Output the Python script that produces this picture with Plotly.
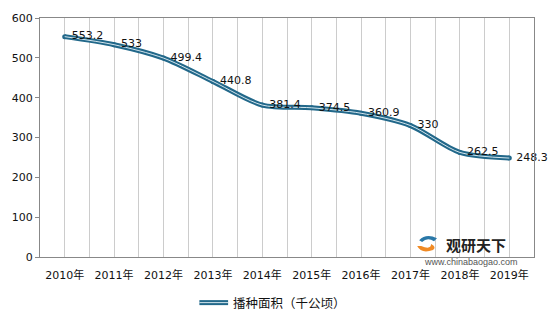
import plotly.graph_objects as go

years = ["2010年", "2011年", "2012年", "2013年", "2014年", "2015年", "2016年", "2017年", "2018年", "2019年"]
values = [553.2, 533, 499.4, 440.8, 381.4, 374.5, 360.9, 330, 262.5, 248.3]
value_labels = ["553.2", "533", "499.4", "440.8", "381.4", "374.5", "360.9", "330", "262.5", "248.3"]
series_name = "播种面积（千公顷）"
y_ticks = [0, 100, 200, 300, 400, 500, 600]

W, H = 555, 322
L, R, T, B = 35, 534, 16, 257

def px(x):
    return (x - L) / (R - L)

def py(y):
    return (B - y) / (B - T)

xs = list(range(len(years)))
dark = "#22688a"
light = "#d4e6ee"
font_num = "DejaVu Sans, Noto Sans CJK SC, sans-serif"

fig = go.Figure()
fig.add_trace(go.Scatter(
    x=xs, y=values, mode="lines+markers",
    line=dict(color=dark, width=5, shape="spline", smoothing=0.8),
    marker=dict(color=dark, size=5),
    showlegend=False, hoverinfo="skip", cliponaxis=False))
fig.add_trace(go.Scatter(
    x=xs, y=values, mode="lines+text",
    line=dict(color=light, width=1, shape="spline", smoothing=0.8),
    text=["  " + t for t in value_labels], textposition="middle right",
    textfont=dict(family=font_num, size=11, color="#111"),
    showlegend=False, hoverinfo="skip", cliponaxis=False))

fig.update_layout(
    width=W, height=H,
    margin=dict(l=L, r=W - R, t=T, b=H - B),
    paper_bgcolor="white", plot_bgcolor="white",
    font=dict(family=font_num, size=11, color="#111"),
    xaxis=dict(
        range=[-0.5, len(years) - 0.5], tickvals=xs, ticktext=years,
        showgrid=True, gridcolor="#cccccc", gridwidth=1,
        minor=dict(tickvals=[i + 0.5 for i in range(-1, len(years))], showgrid=True, gridcolor="#cccccc", gridwidth=1),
        showline=True, linecolor="#888", linewidth=1, mirror=True,
        ticks="", zeroline=False, tickfont=dict(size=11),
        ticklabelstandoff=8,
    ),
    yaxis=dict(
        range=[0, 600], tickvals=y_ticks, showgrid=False,
        showline=True, linecolor="#888", linewidth=1, mirror=True,
        ticks="outside", ticklen=4, tickcolor="#888",
        zeroline=False, tickfont=dict(size=11),
    ),
)

# manual legend (double line)
fig.add_shape(type="line", xref="paper", yref="paper",
              x0=px(196), x1=px(225), y0=py(303), y1=py(303),
              line=dict(color=dark, width=5))
fig.add_shape(type="line", xref="paper", yref="paper",
              x0=px(196), x1=px(225), y0=py(303), y1=py(303),
              line=dict(color=light, width=1))
fig.add_annotation(xref="paper", yref="paper", x=px(228), y=py(303),
                   xanchor="left", yanchor="middle", showarrow=False,
                   text=series_name,
                   font=dict(family="Noto Sans CJK SC, sans-serif", size=12.5, color="#111"))

# watermark
fig.add_shape(type="path", xref="paper", yref="paper",
              path=f"M {px(418)},{py(240)} Q {px(425)},{py(233)} {px(436)},{py(238)} L {px(433)},{py(241)} Q {px(426)},{py(237)} {px(421)},{py(242)} Z",
              fillcolor="#2a78a8", line=dict(width=0))
fig.add_shape(type="path", xref="paper", yref="paper",
              path=f"M {px(416)},{py(246)} Q {px(420)},{py(254)} {px(432)},{py(250)} Q {px(436)},{py(247)} {px(430)},{py(244)} Q {px(430)},{py(250)} {px(420)},{py(246)} Z",
              fillcolor="#f08a24", line=dict(width=0))
fig.add_annotation(xref="paper", yref="paper", x=px(444), y=py(244),
                   xanchor="left", yanchor="middle", showarrow=False,
                   text="<b>观研天下</b>", borderpad=0,
                   font=dict(family="Noto Sans CJK SC, sans-serif", size=15, color="#222"))
fig.add_annotation(xref="paper", yref="paper", x=px(470), y=py(262),
                   xanchor="center", yanchor="middle", showarrow=False,
                   text="www.chinabaogao.com", borderpad=0,
                   font=dict(family="Arial, Liberation Sans, sans-serif", size=9, color="#555"))

fig.write_html("out.html")
